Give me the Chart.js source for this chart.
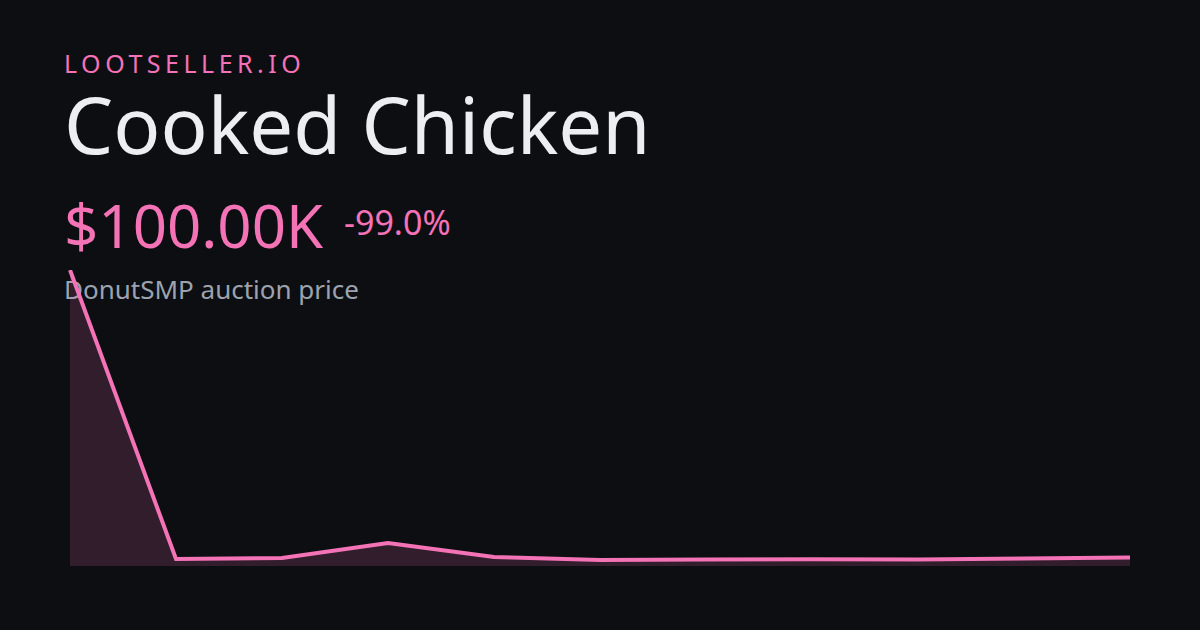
<!DOCTYPE html>
<html>
<head>
<meta charset="utf-8">
<script src="https://cdn.jsdelivr.net/npm/chart.js@4/dist/chart.umd.min.js"></script>
<style>
  html, body { margin:0; padding:0; }
  body { width:1200px; height:630px; background:#0d0e12; position:relative; overflow:hidden; font-family:"Noto Sans", sans-serif; }
  .t { position:absolute; left:64px; white-space:nowrap; margin:0; }
  #brand { top:47px; font-size:25px; letter-spacing:4.5px; color:#f472b6; line-height:32px; }
  #title { top:79px; font-size:78px; color:#eceef2; line-height:90px; }
  #price { top:190px; font-size:60px; color:#f472b6; line-height:70px; }
  #chg { position:absolute; left:344px; top:202px; font-size:34px; color:#f472b6; line-height:40px; margin:0; }
  #sub { top:272px; font-size:26px; color:#9ca3af; line-height:34px; }
  #wrap { position:absolute; left:60px; top:260px; width:1080px; height:316px; }
</style>
</head>
<body>
<div class="t" id="brand">LOOTSELLER.IO</div>
<div class="t" id="title">Cooked Chicken</div>
<div class="t" id="price">$100.00K</div>
<div id="chg">-99.0%</div>
<div class="t" id="sub">DonutSMP auction price</div>
<div id="wrap"><canvas id="c"></canvas></div>
<script>
const labels = ["1","2","3","4","5","6","7","8","9","10","11"];
const prices = [10000, 236, 270, 777, 304, 203, 220, 226, 220, 253, 287];

new Chart(document.getElementById('c'), {
  type: 'line',
  data: {
    labels: labels,
    datasets: [{
      data: prices,
      borderColor: '#f472b6',
      borderWidth: 4,
      backgroundColor: 'rgba(244,114,182,0.16)',
      fill: 'origin',
      tension: 0,
      pointRadius: 0,
      borderJoinStyle: 'miter'
    }]
  },
  options: {
    responsive: true,
    maintainAspectRatio: false,
    animation: false,
    layout: { padding: { left: 10, right: 10, top: 10, bottom: 10 } },
    plugins: { legend: { display: false }, tooltip: { enabled: false } },
    scales: {
      x: { display: false, offset: false },
      y: { display: false, min: 0, max: 10000 }
    }
  }
});
</script>
</body>
</html>
